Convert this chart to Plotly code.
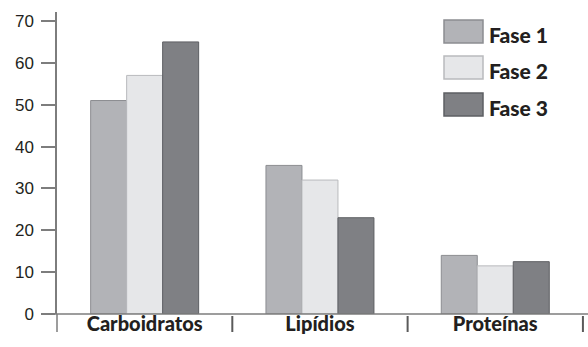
import plotly.graph_objects as go

# Nutrient categories and the share measured in each phase
categories = ["Carboidratos", "Lipídios", "Proteínas"]
fase1 = [51, 35.5, 14]
fase2 = [57, 32, 11.5]
fase3 = [65, 23, 12.5]
series_names = ["Fase 1", "Fase 2", "Fase 3"]
y_ticks = [0, 10, 20, 30, 40, 50, 60, 70]

fills = ["#b2b3b7", "#e6e7e9", "#7f8084"]
edges = ["#8c8d91", "#b9babd", "#5e5f63"]
text_color = "#231f20"
axis_gray = "#7d7d7d"
label_font = dict(family="Lato, sans-serif", size=20, color=text_color, weight=900)
legend_font = dict(family="Lato, sans-serif", size=21, color=text_color, weight=900)

fig = go.Figure()
for name, vals, fc, ec in zip(series_names, [fase1, fase2, fase3], fills, edges):
    fig.add_trace(go.Bar(
        x=categories, y=vals, name=name,
        marker=dict(color=fc, line=dict(color=ec, width=1)),
        showlegend=False,
    ))

W, H = 588, 347
ml, mr, mt, mb = 57, 0, 12, 33
pw, ph = W - ml - mr, H - mt - mb

def px_x(p):
    return (p - ml) / pw

def px_y(p):
    return (H - mb - p) / ph

shapes = []
# baseline running under the bars
shapes.append(dict(type="line", xref="paper", yref="paper",
                   x0=px_x(48), x1=1, y0=0, y1=0,
                   line=dict(color=axis_gray, width=1.5)))
# y axis continues below the baseline
shapes.append(dict(type="line", xref="paper", yref="paper",
                   x0=0, x1=0, y0=0, y1=px_y(332),
                   line=dict(color=axis_gray, width=1.5)))
# separators between categories
for xv in [0.5, 1.5, 2.5]:
    shapes.append(dict(type="line", xref="x", yref="paper",
                       x0=xv, x1=xv, y0=px_y(316), y1=px_y(332),
                       line=dict(color="#5a5a5a", width=2)))

# legend swatches with labels
annotations = []
box_tops = [20, 56, 93]
for name, fc, ec, top in zip(series_names, fills, edges, box_tops):
    shapes.append(dict(type="rect", xref="paper", yref="paper",
                       x0=px_x(444), x1=px_x(483), y0=px_y(top + 23), y1=px_y(top),
                       fillcolor=fc, line=dict(color=ec, width=1.5)))
    annotations.append(dict(xref="paper", yref="paper", x=px_x(487), y=px_y(top + 14),
                            xanchor="left", yanchor="middle", showarrow=False,
                            text=name, font=legend_font))

fig.update_layout(
    width=W, height=H,
    margin=dict(l=ml, r=mr, t=mt, b=mb, pad=0),
    paper_bgcolor="white", plot_bgcolor="white",
    barmode="group", bargap=0.384, bargroupgap=0,
    shapes=shapes, annotations=annotations,
    xaxis=dict(range=[-0.5, 2.529], showline=False, showgrid=False, zeroline=False,
               ticks="", tickfont=label_font, ticklabelstandoff=-4,
               tickvals=list(range(len(categories))), ticktext=categories),
    yaxis=dict(range=[0, 72.15], tickvals=y_ticks, showgrid=False, zeroline=False,
               showline=True, linecolor=axis_gray, linewidth=1.5,
               ticks="outside", ticklen=14, tickwidth=1.5, tickcolor=axis_gray,
               ticklabelstandoff=4,
               tickfont=dict(family="Liberation Sans, Arial, sans-serif", size=17,
                             color=text_color)),
)

fig.write_html("out.html")
